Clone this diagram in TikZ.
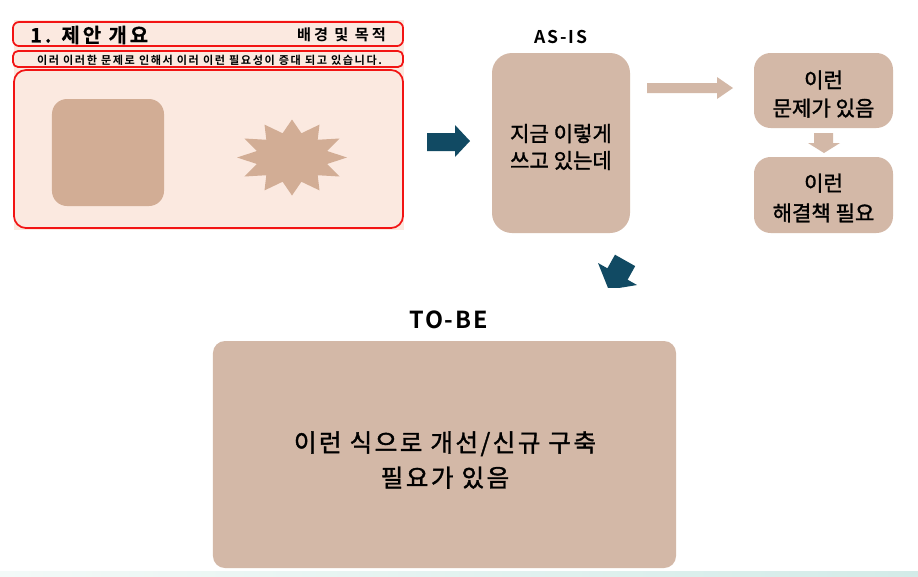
\documentclass[tikz,border=0pt]{standalone}
\usepackage{fontspec}
\setmainfont{Noto Sans CJK KR}[BoldFont={Noto Sans CJK KR Bold}]
\definecolor{boxc}{HTML}{D3B8A7}
\definecolor{shapec}{HTML}{D2AD95}
\definecolor{peach}{HTML}{FBE9E0}
\definecolor{redc}{HTML}{F21414}
\definecolor{darkc}{HTML}{114A63}
\definecolor{tealL}{HTML}{F3FAF8}
\definecolor{tealR}{HTML}{D3EBE8}
\tikzset{
  redbox/.style={draw=redc, line width=1.5pt, inner sep=0pt},
  flowbox/.style={fill=boxc, inner sep=0pt},
  boxtext/.style={align=center, inner sep=0pt, text=black},
  darkarrow/.style={fill=darkc},
  lightarrow/.style={fill=boxc}
}
\begin{document}
\begin{tikzpicture}[x=0.03cm,y=-0.03cm]
\useasboundingbox (0,0) rectangle (918,576);
\fill[white] (0,0) rectangle (918,576);
\shade[left color=tealL,right color=tealR] (0,571) rectangle (918,576);

% ---- left panel ----
\fill[peach] (14,20) rectangle (404,230);
\node[redbox, rounded corners=0.18cm, minimum width=11.7cm, minimum height=0.72cm] (titlebar) at (208,34) {};
\node[redbox, rounded corners=0.15cm, minimum width=11.7cm, minimum height=0.48cm] (subbar) at (208,59) {};
\node[redbox, rounded corners=0.36cm, minimum width=11.67cm, minimum height=4.74cm] (mainpanel) at (208.5,149) {};
\node[anchor=west, inner sep=0pt, font=\bfseries\fontsize{17}{17}\selectfont\addfontfeature{LetterSpace=15,FakeBold=0.6}] (title) at (30,35) {1. 제안 개요};
\node[anchor=east, inner sep=0pt, font=\bfseries\fontsize{13}{13}\selectfont\addfontfeature{LetterSpace=19}] (purpose) at (386,35) {배경 및 목적};
\node[inner sep=0pt, font=\bfseries\fontsize{9.5}{9.5}\selectfont\addfontfeature{LetterSpace=14}] (subtitle) at (209.5,60.5) {이러 이러한 문제로 인해서 이러 이런 필요성이 증대 되고 있습니다.};
\node[fill=shapec, rounded corners=0.45cm, minimum width=3.36cm, minimum height=3.21cm, inner sep=0pt] (square) at (108,152.5) {};
\fill[shapec] ({292+55*cos(90)},{157.5-38*sin(90)})
  \foreach \a in {0,30,...,330} {
    -- ({292+0.66*55*cos(\a+105)},{157.5-0.66*38*sin(\a+105)})
    -- ({292+55*cos(\a+120)},{157.5-38*sin(\a+120)})
  } -- cycle;

% ---- dark arrow right ----
\fill[darkarrow] (427,133) -- (455,133) -- (455,125) -- (470,141) -- (455,157) -- (455,151) -- (427,151) -- cycle;

% ---- AS-IS ----
\node[font=\bfseries\fontsize{15}{15}\selectfont\addfontfeature{LetterSpace=9}, inner sep=0pt] (asislabel) at (561,37) {AS-IS};
\node[flowbox, rounded corners=0.6cm, minimum width=4.14cm, minimum height=5.4cm] (asis) at (561,143) {};
\node[boxtext, font=\fontsize{18}{23}\selectfont\addfontfeature{FakeBold=1.5}] (asistext) at (561,147) {지금 이렇게\\쓰고 있는데};

% light arrow right
\fill[lightarrow] (647,83) -- (717,83) -- (717,77) -- (733,88) -- (717,99) -- (717,93) -- (647,93) -- cycle;

% right boxes
\node[flowbox, rounded corners=0.5cm, minimum width=4.17cm, minimum height=2.25cm] (problem) at (823.5,90.5) {};
\node[boxtext, font=\fontsize{18}{24}\selectfont\addfontfeature{FakeBold=1.5}] (problemtext) at (823.5,94) {이런\\문제가 있음};
\fill[lightarrow] (814,133) -- (833,133) -- (833,143) -- (840,143) -- (824,153) -- (808,143) -- (814,143) -- cycle;
\node[flowbox, rounded corners=0.5cm, minimum width=4.17cm, minimum height=2.28cm] (solution) at (823.5,195) {};
\node[boxtext, font=\fontsize{18}{25.5}\selectfont\addfontfeature{FakeBold=1.5}] (solutiontext) at (823.5,198) {이런\\해결책 필요};

% ---- dark diagonal arrow ----
\begin{scope}
\clip (0,0) rectangle (918,287);
\fill[darkarrow] (615.0,254.7) -- (635.2,266.1) -- (627.6,279.7) -- (637.0,285.0) -- (608.7,289.7) -- (598.0,263.0) -- (607.4,268.3) -- cycle;
\end{scope}

% ---- TO-BE ----
\node[font=\bfseries\fontsize{20}{20}\selectfont\addfontfeature{LetterSpace=8}, inner sep=0pt] (tobelabel) at (448.5,320) {TO-BE};
\node[flowbox, rounded corners=0.36cm, minimum width=13.89cm, minimum height=6.81cm] (tobe) at (444.5,454.5) {};
\node[boxtext, font=\fontsize{21}{30}\selectfont\addfontfeature{LetterSpace=10,FakeBold=1.5}] (tobetext) at (445,460) {이런 식으로 개선/신규 구축\\필요가 있음};
\end{tikzpicture}
\end{document}
